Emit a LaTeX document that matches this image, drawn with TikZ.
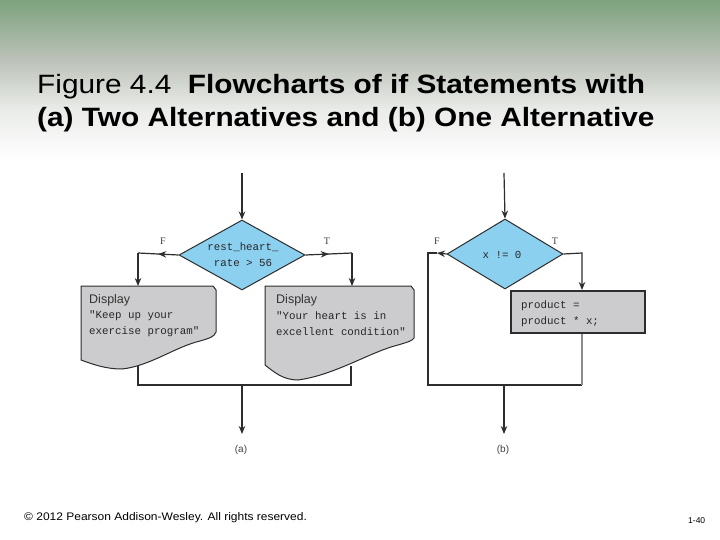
\documentclass[tikz,border=0pt]{standalone}
\usepackage{fontspec}
\setmainfont{Liberation Sans}
\newfontfamily\monof{Liberation Mono}
\newfontfamily\serf{Liberation Serif}
\usetikzlibrary{shapes.geometric,arrows.meta,decorations.markings}
\definecolor{hdrtop}{RGB}{125,162,125}
\definecolor{hdrmid}{RGB}{188,194,185}
\definecolor{hdrlow}{RGB}{234,236,233}
\definecolor{lncol}{RGB}{45,45,45}
\definecolor{dblue}{RGB}{140,208,240}
\definecolor{dgray}{RGB}{204,204,206}
\tikzset{
  conn/.style={draw=lncol, line width=1.2pt},
  arr/.style={conn, -{Stealth[length=8pt,width=6.5pt]}},
  midarr/.style={conn, postaction={decorate}, decoration={markings,
      mark=at position 0.5 with {\arrow{Stealth[length=8pt,width=6.5pt]}}}},
  decision/.style={diamond, draw=lncol, line width=1pt, fill=dblue, inner sep=0pt},
  dispshape/.style={draw=lncol, line width=1pt, fill=dgray},
  code/.style={font=\monof\fontsize{10.8}{13}\selectfont, text=black!85, inner sep=0pt},
  disptitle/.style={font=\fontsize{12.5}{14}\selectfont, text=black!80, inner sep=0pt},
  tflab/.style={font=\serf\fontsize{10}{12}\selectfont, text=black!75, inner sep=0pt},
  sublab/.style={font=\fontsize{10}{12}\selectfont, text=black!75, inner sep=0pt},
  titletext/.style={font=\fontsize{26.5}{30}\selectfont, anchor=base west, inner sep=0pt},
}
\begin{document}
\begin{tikzpicture}[x=1pt,y=-1pt]
\useasboundingbox (0,0) rectangle (720,540);
\fill[white] (0,0) rectangle (720,540);
% header gradient
\shade[top color=hdrtop, bottom color=hdrmid] (0,0) rectangle (720,60);
\shade[top color=hdrmid, bottom color=hdrlow] (0,60) rectangle (720,110);
\shade[top color=hdrlow, bottom color=white] (0,110) rectangle (720,160);
% title
\node[titletext] (title1) at (37,93.5) {\scalebox{1.125}[1]{Figure 4.4\ \ \textbf{Flowcharts of if Statements with}}};
\node[titletext] (title2) at (37,127) {\scalebox{1.125}[1]{\textbf{(a) Two Alternatives and (b) One Alternative}}};

% ---------------- (a) ----------------
\node[decision, minimum width=126pt, minimum height=70pt] (d1) at (242,255) {};
\node[code, align=center] (d1t) at (243,255) {rest\_heart\_\\[3pt]rate > 56};

% left display
\path[dispshape] (81,286) -- (213,286) -- (216,290) -- (216,332)
  .. controls (214,337) and (210,338) .. (200,341)
  .. controls (175,347) and (150,366) .. (122,369)
  .. controls (105,369) and (92,364) .. (81,360) -- cycle;
\node[disptitle, anchor=west] (dlh) at (89,300) {Display};
\node[code, anchor=west] (dl1) at (89,316) {"Keep up your};
\node[code, anchor=west] (dl2) at (89,332) {exercise program"};
% right display
\path[dispshape] (265,286) -- (411,286) -- (414,290) -- (414,338)
  .. controls (412,341) and (408,342) .. (398,345)
  .. controls (370,352) and (335,375) .. (298,380)
  .. controls (283,380) and (274,372) .. (265,365) -- cycle;
\node[disptitle, anchor=west] (drh) at (276,300) {Display};
\node[code, anchor=west] (dr1) at (276,316) {"Your heart is in};
\node[code, anchor=west] (dr2) at (276,332) {excellent condition"};

\coordinate (ina) at (242,173);
\coordinate (fa) at (138,253);
\coordinate (dlt) at (138,286);
\coordinate (ta) at (352,253);
\coordinate (drt) at (352,286);
\coordinate (dlb) at (138,366);
\coordinate (drb) at (351,366);
\coordinate (jl) at (138,385);
\coordinate (jr) at (351,385);
\coordinate (ja) at (242,385);
\coordinate (outa) at (242,434);

\draw[arr] (ina) -- (d1.north);
\draw[midarr] (d1.west) -- (fa);
\draw[arr] (fa) -- (dlt);
\draw[midarr] (d1.east) -- (ta);
\draw[arr] (ta) -- (drt);
\draw[conn] (dlb) -- (jl) -- (jr) -- (drb);
\draw[arr] (ja) -- (outa);

\node[tflab] (fla) at (163,241) {F};
\node[tflab] (tla) at (327,241) {T};
\node[sublab] (suba) at (241,450) {(a)};

% ---------------- (b) ----------------
\node[decision, minimum width=116pt, minimum height=70pt] (d2) at (505,254) {};
\node[code] (d2t) at (502,255) {x != 0};
\node[draw=lncol, line width=2.2pt, fill=dgray, minimum width=134pt, minimum height=42pt, inner sep=0pt] (box) at (578,312) {};
\node[code, anchor=west] (bx1) at (521,306) {product =};
\node[code, anchor=west] (bx2) at (521,322) {product * x;};

\coordinate (inb) at (504,173);
\coordinate (fbm) at (437,253);
\coordinate (fb) at (428,253);
\coordinate (fbb) at (428,385);
\coordinate (tb) at (582,253);
\coordinate (boxin) at (582,290);
\coordinate (boxout) at (582,334);
\coordinate (jbr) at (582,385);
\coordinate (jb) at (504,385);
\coordinate (outb) at (504,434);

\draw[arr] (inb) -- (d2.north);
\draw[arr] (d2.west) -- (fbm);
\draw[conn] (fbm) -- (fb) -- (fbb) -- (jbr);
\draw[arr] (d2.east) -- (tb) -- (boxin);
\draw[draw=black!45, line width=1.2pt] (boxout) -- (jbr);
\draw[arr] (jb) -- (outb);

\node[tflab] (flb) at (437,241) {F};
\node[tflab] (tlb) at (555,241) {T};
\node[sublab] (subb) at (503,450) {(b)};

% footer
\node[font=\fontsize{11}{12}\selectfont, anchor=west, inner sep=0pt] (copy) at (24,518) {\scalebox{1.09}[1]{© 2012 Pearson Addison-Wesley. All rights reserved.}};
\node[font=\fontsize{8.5}{10}\selectfont, anchor=west, inner sep=0pt] (pg) at (688,521) {1-40};
\end{tikzpicture}
\end{document}
